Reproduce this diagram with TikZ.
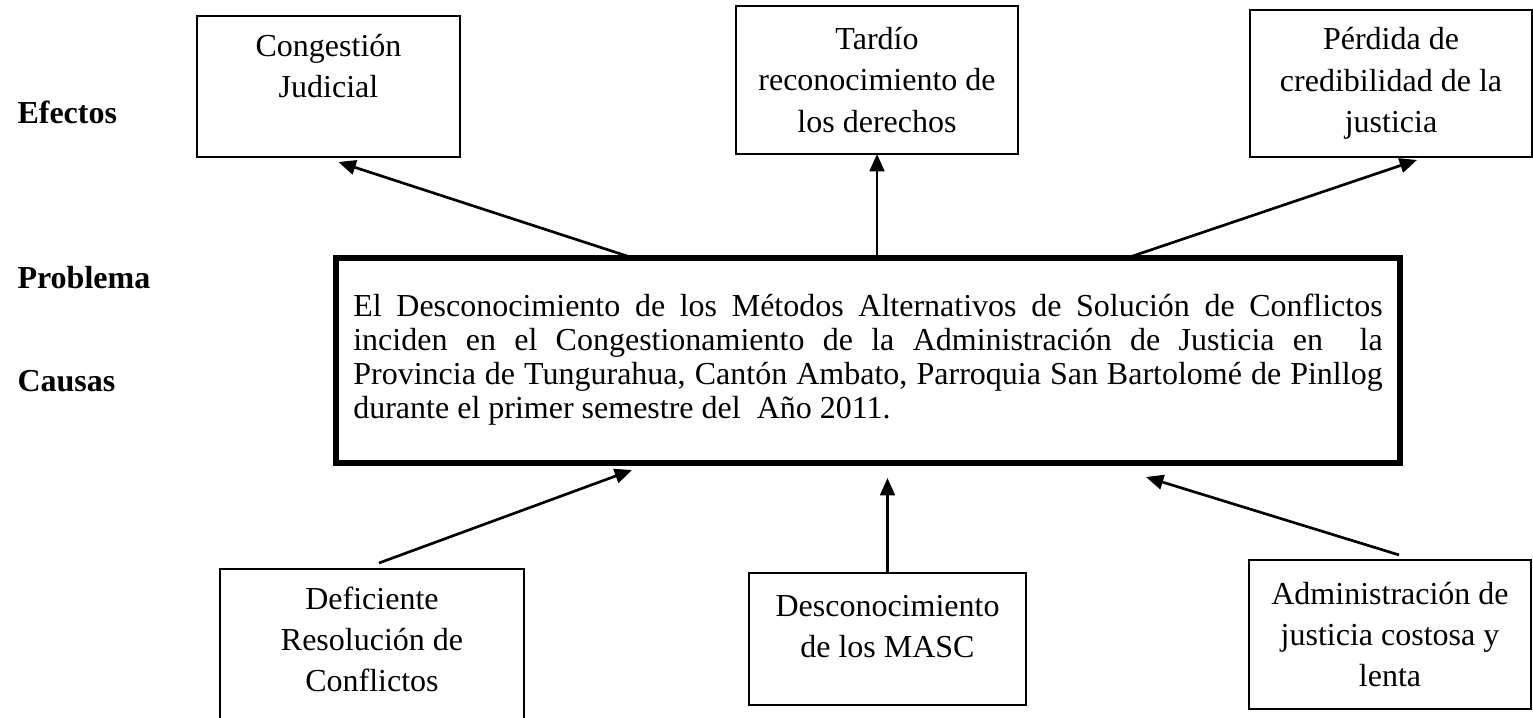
\documentclass[tikz,border=0pt]{standalone}
\usepackage{fontspec}
\setmainfont{Liberation Serif}
\usetikzlibrary{arrows.meta,calc}
\begin{document}
\begin{tikzpicture}[x=0.375pt,y=-0.375pt,
  caja/.style={draw,line width=0.5pt,align=center,outer sep=0pt,font=\fontsize{12}{15.5}\selectfont},
  flecha/.style={line width=1pt,-{Triangle[length=6.5pt,width=5.5pt]}},
  titulo/.style={anchor=west,inner sep=0pt,font=\fontsize{12}{14}\selectfont\bfseries}]
\useasboundingbox (0,0) rectangle (1533,718);
\node[titulo] (efectos) at (17,112) {Efectos};
\node[titulo] (problema) at (17,278) {Problema};
\node[titulo] (causas) at (17,381) {Causas};
\node[caja,minimum width=98.6pt,minimum height=52.9pt] (e1) at (328.5,86.5) {Congestión\\Judicial\\\mbox{}};
\node[caja,minimum width=105.75pt,minimum height=55.5pt] (e2) at (877,80) {Tardío\\reconocimiento de\\los derechos};
\node[caja,minimum width=105.75pt,minimum height=55.1pt] (e3) at (1391,83.5) {Pérdida de\\credibilidad de la\\justicia};
\node[draw,line width=2pt,outer sep=0pt,inner sep=0pt,minimum width=399pt,minimum height=76.9pt,font=\fontsize{12}{12.75}\selectfont] (prob) at (868,360.5)
  {\parbox[c][50pt][t]{386pt}{El Desconocimiento de los Métodos Alternativos de Solución de Conflictos\linebreak
  inciden en el Congestionamiento de la Administración de Justicia en\ \ la\linebreak
  Provincia de Tungurahua, Cantón Ambato, Parroquia San Bartolomé de Pinllog\linebreak
  durante el primer semestre del\ \ Año 2011.}};
\node[caja,minimum width=114pt,minimum height=68.25pt] (c1) at (372,660) {Deficiente\\Resolución de\\Conflictos\\\mbox{}};
\node[caja,minimum width=103.9pt,minimum height=49.5pt] (c2) at (887.5,639) {Desconocimiento\\de los MASC\\[-6pt]\mbox{}};
\node[caja,minimum width=105.75pt,minimum height=55.9pt] (c3) at (1390,634.5) {Administración de\\justicia costosa y\\lenta};
% efectos
\draw[flecha] ($(prob.north)+(-235,0)$) -- ($(e1.south)+(10,5)$);
\draw[flecha] (e2.south |- prob.north) -- (e2.south);
\draw[flecha] ($(prob.north)+(259,0)$) -- ($(e3.south)+(26,3)$);
% causas
\draw[flecha] ($(c1.north)+(7,-6)$) -- ($(prob.south)+(-236,7)$);
\draw[flecha] (c2.north) -- ($(prob.south -| c2.north)+(0,15)$);
\draw[flecha] ($(c3.north)+(9,-5)$) -- ($(prob.south)+(278,14)$);
\end{tikzpicture}
\end{document}
